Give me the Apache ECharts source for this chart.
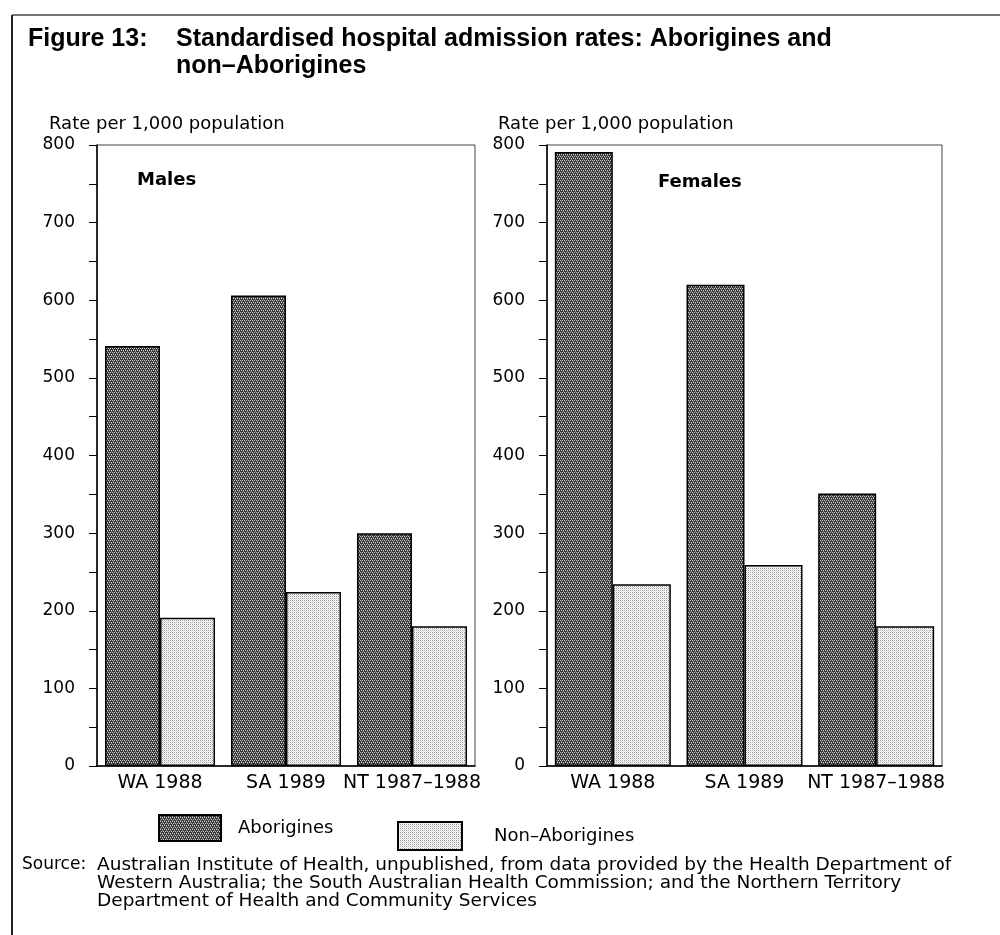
<!DOCTYPE html>
<html>
<head>
<meta charset="utf-8">
<script src="https://cdn.jsdelivr.net/npm/echarts@6/dist/echarts.min.js"></script>
<style>
html,body{margin:0;padding:0;background:#fff;}
#chart{width:1000px;height:935px;}
</style>
</head>
<body>
<div id="chart"></div>
<script>
// ---- data ----
const categories = ['WA 1988', 'SA 1989', 'NT 1987\u20131988'];
const seriesNames = ['Aborigines', 'Non\u2013Aborigines'];
const malesAborigines = [541, 606, 300];
const malesNonAborigines = [191, 224, 180];
const femalesAborigines = [791, 620, 351];
const femalesNonAborigines = [234, 259, 180];
const yMin = 0, yMax = 800, yStep = 100;
const panelTitles = ['Males', 'Females'];
const yAxisName = 'Rate per 1,000 population';
const figureLabel = 'Figure 13:';
const figureTitle = 'Standardised hospital admission rates: Aborigines and\nnon\u2013Aborigines';
const sourceLabel = 'Source:';
const sourceText = 'Australian Institute of Health, unpublished, from data provided by the Health Department of\nWestern Australia; the South Australian Health Commission; and the Northern Territory\nDepartment of Health and Community Services';

// ---- patterns ----
function makePattern(kind) {
  const c = document.createElement('canvas');
  c.width = 4; c.height = 4;
  const ctx = c.getContext('2d');
  if (kind === 'dark') {
    ctx.fillStyle = '#353535'; ctx.fillRect(0, 0, 4, 4);
    ctx.fillStyle = '#d0d0d0';
    [[0,0],[2,0],[1,2],[3,2]].forEach(p => ctx.fillRect(p[0], p[1], 1, 1));
    ctx.fillStyle = '#868686';
    [[1,1],[3,3]].forEach(p => ctx.fillRect(p[0], p[1], 1, 1));
  } else {
    ctx.fillStyle = '#ffffff'; ctx.fillRect(0, 0, 4, 4);
    ctx.fillStyle = '#8c8c8c';
    [[0,0],[2,2]].forEach(p => ctx.fillRect(p[0], p[1], 1, 1));
    ctx.fillStyle = '#b0b0b0';
    [[2,0],[0,2]].forEach(p => ctx.fillRect(p[0], p[1], 1, 1));
    ctx.fillStyle = '#dcdcdc';
    [[1,1],[3,3],[1,3],[3,1]].forEach(p => ctx.fillRect(p[0], p[1], 1, 1));
  }
  return { image: c, repeat: 'repeat' };
}
const darkFill = makePattern('dark');
const lightFill = makePattern('light');

const FONT = 'DejaVu Sans';
const TITLE_FONT = 'Liberation Sans';
const chart = echarts.init(document.getElementById('chart'), null, { renderer: 'canvas' });

const grids = [
  { left: 97, top: 145, width: 378, height: 621 },
  { left: 547, top: 145, width: 395, height: 621 }
];
const barWidths = [55, 58];

function yAxis(i) {
  return {
    type: 'value', gridIndex: i, min: yMin, max: yMax, interval: yStep,
    axisLine: { show: true, lineStyle: { color: '#000', width: 1.5 } },
    axisTick: { show: true, inside: false, length: 8, lineStyle: { color: '#000', width: 1 } },
    minorTick: { show: true, splitNumber: 2, length: 8, lineStyle: { color: '#000', width: 1 } },
    splitLine: { show: false },
    axisLabel: { margin: 22, fontFamily: FONT, fontSize: 17, color: '#000' }
  };
}
function xAxis(i) {
  return {
    type: 'category', gridIndex: i, data: categories,
    axisLine: { show: true, lineStyle: { color: '#000', width: 1.5 } },
    axisTick: { show: false },
    axisLabel: { margin: 8, fontFamily: FONT, fontSize: 19, color: '#000', interval: 0 }
  };
}
const panelData = [
  [malesAborigines, malesNonAborigines],
  [femalesAborigines, femalesNonAborigines]
];
const series = [];
panelData.forEach((pair, i) => {
  pair.forEach((vals, j) => {
    series.push({
      type: 'bar', name: seriesNames[j], xAxisIndex: i, yAxisIndex: i,
      data: vals, barWidth: barWidths[i], barGap: '0%',
      itemStyle: { color: j === 0 ? darkFill : lightFill, borderColor: '#000', borderWidth: 1.5 },
      emphasis: { disabled: true }
    });
  });
});

const option = {
  backgroundColor: '#fff',
  animation: false,
  grid: grids.map(g => Object.assign({ show: true, borderColor: '#444', borderWidth: 1, backgroundColor: 'transparent' }, g)),
  xAxis: [xAxis(0), xAxis(1)],
  yAxis: [yAxis(0), yAxis(1)],
  series: series,
  legend: [
    { data: [seriesNames[0]], left: 158, top: 814, itemWidth: 62, itemHeight: 26, padding: 0, icon: 'rect',
      textStyle: { fontFamily: FONT, fontSize: 18, color: '#000', padding: [0, 0, 0, 12] }, selectedMode: false },
    { data: [seriesNames[1]], left: 397, top: 821, itemWidth: 64, itemHeight: 28, padding: 0, icon: 'rect',
      textStyle: { fontFamily: FONT, fontSize: 18, color: '#000', padding: [0, 0, 0, 27] }, selectedMode: false }
  ],
  title: [
    { text: figureLabel, left: 28, top: 26, padding: 0,
      textStyle: { fontFamily: TITLE_FONT, fontSize: 25, fontWeight: 'bold', color: '#000', lineHeight: 27 } },
    { text: figureTitle, left: 176, top: 26, padding: 0,
      textStyle: { fontFamily: TITLE_FONT, fontSize: 25, fontWeight: 'bold', color: '#000', lineHeight: 27 } },
    { text: yAxisName, left: 49, top: 115, padding: 0,
      textStyle: { fontFamily: FONT, fontSize: 18, fontWeight: 'normal', color: '#000' } },
    { text: yAxisName, left: 498, top: 115, padding: 0,
      textStyle: { fontFamily: FONT, fontSize: 18, fontWeight: 'normal', color: '#000' } },
    { text: panelTitles[0], left: 137, top: 171, padding: 0,
      textStyle: { fontFamily: FONT, fontSize: 18, fontWeight: 'bold', color: '#000' } },
    { text: panelTitles[1], left: 658, top: 173, padding: 0,
      textStyle: { fontFamily: FONT, fontSize: 18, fontWeight: 'bold', color: '#000' } },
    { text: sourceLabel, left: 22, top: 856, padding: 0,
      textStyle: { fontFamily: FONT, fontSize: 17, fontWeight: 'normal', color: '#000', lineHeight: 18 } },
    { text: sourceText, left: 97, top: 856, padding: 0,
      textStyle: { fontFamily: FONT, fontSize: 18.5, fontWeight: 'normal', color: '#000', lineHeight: 18 } }
  ],
  graphic: [
    { type: 'line', shape: { x1: 12, y1: 15, x2: 1000, y2: 15 }, style: { stroke: '#777', lineWidth: 2 }, silent: true },
    { type: 'line', shape: { x1: 12, y1: 15, x2: 12, y2: 935 }, style: { stroke: '#222', lineWidth: 2 }, silent: true }
  ]
};
chart.setOption(option);
</script>
</body>
</html>
